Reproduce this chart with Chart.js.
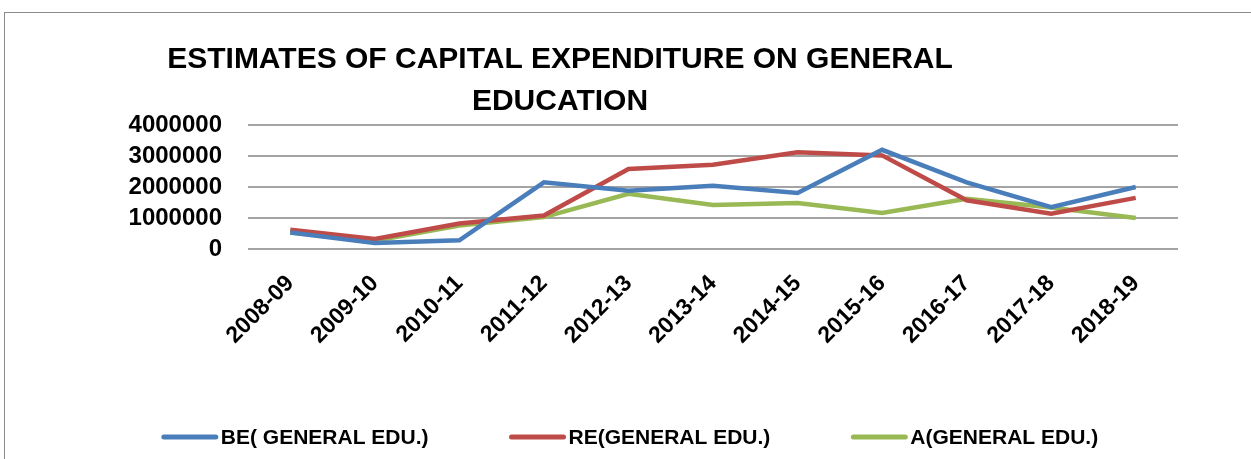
<!DOCTYPE html>
<html>
<head>
<meta charset="utf-8">
<title>Estimates of Capital Expenditure on General Education</title>
<script src="https://cdn.jsdelivr.net/npm/chart.js@4/dist/chart.umd.min.js"></script>
<style>
	html, body { margin: 0; padding: 0; background: #fff; overflow: hidden; }
	#wrap { position: relative; width: 1251px; height: 459px; }
	#frame {
		position: absolute; left: 4px; top: 12px; width: 1300px; height: 500px;
		border: 1px solid #8a8a8a; box-sizing: border-box;
	}
	#chartBox { position: absolute; left: 0; top: 0; width: 1251px; height: 459px; }
</style>
</head>
<body>
<div id="wrap">
	<div id="frame"></div>
	<div id="chartBox"><canvas id="expChart"></canvas></div>
</div>
<script>
// chart data
const TITLE_LINES = ['ESTIMATES OF CAPITAL EXPENDITURE ON GENERAL', 'EDUCATION'];
const YEARS = ['2008-09', '2009-10', '2010-11', '2011-12', '2012-13', '2013-14',
	'2014-15', '2015-16', '2016-17', '2017-18', '2018-19'];
const BE_GENERAL = [530000, 190000, 280000, 2150000, 1880000, 2040000, 1810000, 3200000, 2150000, 1350000, 2000000];
const RE_GENERAL = [620000, 320000, 820000, 1080000, 2580000, 2720000, 3120000, 3020000, 1570000, 1140000, 1650000];
const A_GENERAL = [530000, 270000, 760000, 1030000, 1780000, 1420000, 1480000, 1160000, 1620000, 1340000, 1000000];
const SERIES_LABELS = ['BE( GENERAL EDU.)', 'RE(GENERAL EDU.)', 'A(GENERAL EDU.)'];
const Y_MAX = 4000000;
const Y_STEP = 1000000;

const FONT = '"Liberation Sans", Arial, sans-serif';
const COLORS = ['#4a7ebb', '#be4b48', '#98b954'];

Chart.defaults.font.family = FONT;
Chart.defaults.color = '#000';

/**
 * Draws the two-line title, left of centre like the original.
 */
const titlePlugin = {
	id: 'leftTitle',
	afterDraw(chart) {
		const ctx = chart.ctx;
		ctx.save();
		ctx.font = 'bold 30px ' + FONT;
		ctx.fillStyle = '#000';
		ctx.textAlign = 'center';
		ctx.textBaseline = 'middle';
		ctx.fillText(TITLE_LINES[0], 560, 60);
		ctx.fillText(TITLE_LINES[1], 560, 102);
		ctx.restore();
	}
};

/**
 * Legend row at the bottom: short thick line + label, items spread out.
 */
const legendPlugin = {
	id: 'wideLegend',
	afterDraw(chart) {
		const ctx = chart.ctx;
		const lineLen = 56, gap = 3, spacing = 81, y = 437;
		ctx.save();
		ctx.font = 'bold 21px ' + FONT;
		ctx.textBaseline = 'middle';
		ctx.textAlign = 'left';
		const items = chart.data.datasets.map(ds => ({
			text: ds.label,
			color: ds.borderColor,
			w: lineLen + gap + ctx.measureText(ds.label).width
		}));
		const total = items.reduce((s, it) => s + it.w, 0) + spacing * (items.length - 1);
		let x = 630 - total / 2;
		items.forEach(it => {
			ctx.strokeStyle = it.color;
			ctx.lineWidth = 5;
			ctx.lineCap = 'round';
			ctx.beginPath();
			ctx.moveTo(x + 2, y);
			ctx.lineTo(x + lineLen - 2, y);
			ctx.stroke();
			ctx.fillStyle = '#000';
			ctx.fillText(it.text, x + lineLen + gap, y + 1);
			x += it.w + spacing;
		});
		ctx.restore();
	}
};

function makeDataset(label, data, color) {
	return {
		label: label,
		data: data,
		borderColor: color,
		backgroundColor: color,
		borderWidth: 4.5,
		pointRadius: 0,
		pointHoverRadius: 0,
		tension: 0,
		fill: false
	};
}

const ctx = document.getElementById('expChart').getContext('2d');
new Chart(ctx, {
	type: 'line',
	data: {
		labels: YEARS,
		datasets: [
			makeDataset(SERIES_LABELS[0], BE_GENERAL, COLORS[0]),
			makeDataset(SERIES_LABELS[1], RE_GENERAL, COLORS[1]),
			makeDataset(SERIES_LABELS[2], A_GENERAL, COLORS[2])
		]
	},
	options: {
		responsive: true,
		maintainAspectRatio: false,
		animation: false,
		layout: {
			padding: { left: 0, top: 125, right: 73, bottom: 0 }
		},
		plugins: {
			legend: { display: false },
			title: { display: false },
			tooltip: { enabled: false }
		},
		scales: {
			x: {
				offset: true,
				grid: { display: false },
				border: { display: false },
				ticks: {
					minRotation: 45,
					maxRotation: 45,
					padding: 13,
					autoSkip: false,
					font: { size: 23, weight: 'bold' }
				},
				afterFit(scale) {
					scale.height = 210;
				}
			},
			y: {
				min: 0,
				max: Y_MAX,
				border: { display: false },
				grid: {
					color: '#a4a4a4',
					lineWidth: 2,
					drawTicks: false
				},
				ticks: {
					stepSize: Y_STEP,
					padding: 26,
					autoSkip: false,
					font: { size: 24, weight: 'bold' },
					// plain digits, no thousands separators
					callback: function(value) {
						return String(value);
					}
				},
				afterFit(scale) {
					scale.width = 248;
				}
			}
		}
	},
	plugins: [titlePlugin, legendPlugin]
});
</script>
</body>
</html>
